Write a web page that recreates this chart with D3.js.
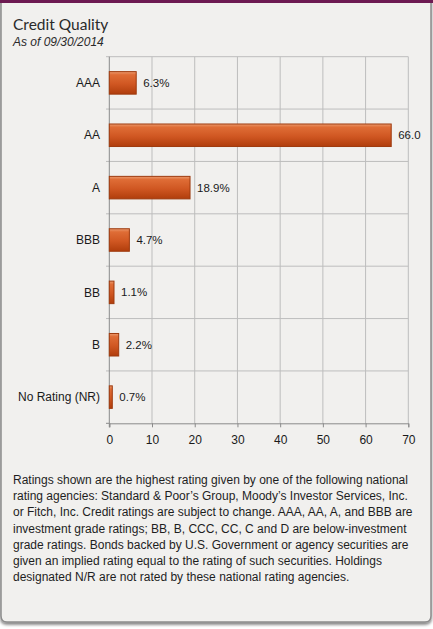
<!DOCTYPE html>
<html><head><meta charset="utf-8">
<script src="https://cdn.jsdelivr.net/npm/d3@7"></script>
<style>
html,body{margin:0;padding:0;background:#ffffff;}
svg{display:block;}
</style></head>
<body>
<svg id="c" width="433" height="629"></svg>
<script>
const categories = ["AAA","AA","A","BBB","BB","B","No Rating (NR)"];
const values = [6.3, 66.0, 18.9, 4.7, 1.1, 2.2, 0.7];
const valueLabels = ["6.3%","66.0","18.9%","4.7%","1.1%","2.2%","0.7%"];
const xTicks = [0,10,20,30,40,50,60,70];
const title = "Credit Quality";
const subtitle = "As of 09/30/2014";
const footnote = [
 "Ratings shown are the highest rating given by one of the following national",
 "rating agencies: Standard & Poor\u2019s Group, Moody\u2019s Investor Services, Inc.",
 "or Fitch, Inc. Credit ratings are subject to change. AAA, AA, A, and BBB are",
 "investment grade ratings; BB, B, CCC, CC, C and D are below-investment",
 "grade ratings. Bonds backed by U.S. Government or agency securities are",
 "given an implied rating equal to the rating of such securities. Holdings",
 "designated N/R are not rated by these national rating agencies."
];

const svg = d3.select("#c");
const defs = svg.append("defs");
const sh = defs.append("filter").attr("id","sh").attr("x","-5%").attr("y","-5%").attr("width","110%").attr("height","110%");
sh.append("feGaussianBlur").attr("in","SourceAlpha").attr("stdDeviation",1.5);
sh.append("feOffset").attr("dy",1.5).attr("result","b");
sh.append("feComponentTransfer").append("feFuncA").attr("type","linear").attr("slope",0.5);
const m = sh.append("feMerge"); m.append("feMergeNode"); m.append("feMergeNode").attr("in","SourceGraphic");

const g = defs.append("linearGradient").attr("id","bar").attr("x1",0).attr("y1",0).attr("x2",0).attr("y2",1);
g.append("stop").attr("offset","0%").attr("stop-color","#eb9a6e");
g.append("stop").attr("offset","14%").attr("stop-color","#df6d36");
g.append("stop").attr("offset","55%").attr("stop-color","#d05722");
g.append("stop").attr("offset","100%").attr("stop-color","#b03d0c");

const cardPath = `M1,0 H431 V616 Q431,622 425,622 H7 Q1,622 1,616 Z`;
svg.append("path").attr("d",cardPath).attr("fill","#f1f0ee").attr("stroke","#8c8c8c").attr("stroke-width",1.5).attr("filter","url(#sh)");
svg.append("rect").attr("x",0).attr("y",0).attr("width",433).attr("height",3).attr("fill","#6d1a52");

svg.append("text").attr("x",13).attr("y",29.5).text(title)
  .attr("font-family","Lato, 'DejaVu Sans', sans-serif").attr("font-size",15.5).attr("fill","#2a2a2a");
svg.append("text").attr("x",13).attr("y",45.5).text(subtitle)
  .attr("font-family","'Liberation Sans', Arial, sans-serif").attr("font-style","italic").attr("font-size",12).attr("fill","#2a2a2a");

const x = d3.scaleLinear().domain([0,70]).range([109.3,408.3]);
const y = d3.scaleBand().domain(categories).range([56.7,423.3]).paddingInner(0.57).paddingOuter(0.285);
const step = y.step();
const plotTop = 56.7, plotBottom = 423.3;

const grid = svg.append("g");
grid.selectAll("line.v").data(xTicks.filter(d=>d>0)).join("line")
  .attr("x1",d=>x(d)).attr("x2",d=>x(d)).attr("y1",plotTop).attr("y2",plotBottom)
  .attr("stroke","#bdbdbd").attr("stroke-width",1);
grid.selectAll("line.h").data(categories).join("line")
  .attr("x1",106).attr("x2",x(70)).attr("y1",d=>y(d)-y.paddingOuter()*step).attr("y2",d=>y(d)-y.paddingOuter()*step)
  .attr("stroke","#bdbdbd").attr("stroke-width",1);

const xa = svg.append("g").attr("transform",`translate(0,${plotBottom})`)
  .call(d3.axisBottom(x).tickValues(xTicks).tickSize(4).tickPadding(8).tickFormat(d3.format("d")));
xa.select(".domain").attr("stroke","#8a8a8a");
xa.selectAll(".tick line").attr("stroke","#8a8a8a");
xa.selectAll("text").attr("font-family","'Liberation Sans', Arial, sans-serif").attr("font-size",12).attr("fill","#1a1a1a");

svg.append("line").attr("x1",x(0)).attr("x2",x(0)).attr("y1",plotTop).attr("y2",plotBottom+4).attr("stroke","#8a8a8a");
svg.append("line").attr("x1",106).attr("x2",x(0)).attr("y1",plotBottom).attr("y2",plotBottom).attr("stroke","#8a8a8a");

svg.selectAll("rect.bar").data(values).join("rect").attr("class","bar")
  .attr("x",x(0)).attr("y",(d,i)=>y(categories[i]))
  .attr("width",d=>x(d)-x(0)).attr("height",y.bandwidth())
  .attr("fill","url(#bar)").attr("stroke","#9e3a0e").attr("stroke-width",1);

svg.selectAll("text.val").data(values).join("text").attr("class","val")
  .attr("x",d=>x(d)+7).attr("y",(d,i)=>y(categories[i])+y.bandwidth()/2)
  .attr("dy","0.35em").text((d,i)=>valueLabels[i])
  .attr("font-family","'Liberation Sans', Arial, sans-serif").attr("font-size",11.5).attr("fill","#1a1a1a");

svg.selectAll("text.cat").data(categories).join("text").attr("class","cat")
  .attr("x",100).attr("y",d=>y(d)+y.bandwidth()/2).attr("dy","0.35em").attr("text-anchor","end")
  .text(d=>d)
  .attr("font-family","'Liberation Sans', Arial, sans-serif").attr("font-size",12).attr("fill","#1a1a1a");

svg.append("g").selectAll("text").data(footnote).join("text")
  .attr("x",13).attr("y",(d,i)=>484+i*16.2).text(d=>d)
  .attr("font-family","'Liberation Sans', Arial, sans-serif").attr("font-size",12).attr("fill","#1e1e1e");
</script>
</body></html>
